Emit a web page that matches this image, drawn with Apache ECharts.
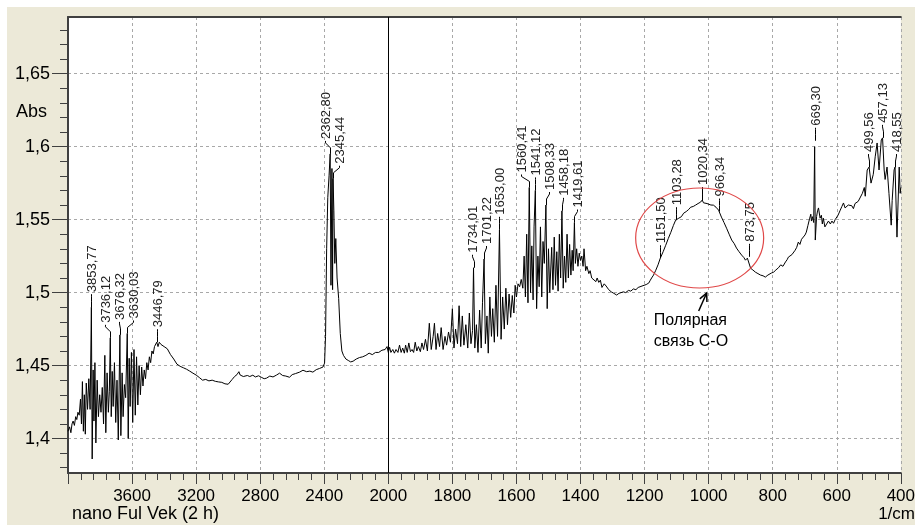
<!DOCTYPE html>
<html><head><meta charset="utf-8">
<script src="https://cdn.jsdelivr.net/npm/echarts@6/dist/echarts.min.js"></script>
<style>
html,body{margin:0;padding:0;background:#fff;}
#bg{position:absolute;left:7px;top:7px;width:908px;height:518px;background:#ECE9D8;}
#chart{position:absolute;left:0;top:0;width:918px;height:525px;}
</style></head><body>
<div id="bg"></div><div id="chart"></div>
<script>
// Spectrum 4000 -> 2000 1/cm  [wavenumber, absorbance]
const spectrumHigh = [[4000,1.405],[3990,1.408],[3982,1.404],[3975,1.410],[3968,1.412],[3960,1.409],[3952,1.415],[3945,1.413],[3938,1.418],[3930,1.416],[3922,1.427],[3916,1.410],[3910,1.439],[3904,1.405],[3898,1.430],[3892,1.403],[3886,1.438],[3878,1.420],[3870,1.441],[3862,1.420],[3854,1.490],[3849,1.386],[3843,1.447],[3838,1.412],[3832,1.452],[3826,1.397],[3818,1.440],[3810,1.415],[3802,1.430],[3794,1.418],[3786,1.435],[3778,1.410],[3770,1.457],[3764,1.404],[3756,1.445],[3748,1.418],[3742,1.432],[3736,1.469],[3730,1.415],[3724,1.446],[3718,1.422],[3710,1.452],[3702,1.411],[3694,1.440],[3686,1.399],[3676,1.471],[3670,1.402],[3662,1.445],[3656,1.415],[3648,1.437],[3640,1.428],[3630,1.472],[3624,1.400],[3618,1.455],[3612,1.422],[3604,1.459],[3596,1.411],[3588,1.461],[3580,1.416],[3572,1.456],[3564,1.423],[3556,1.450],[3548,1.430],[3540,1.449],[3532,1.436],[3524,1.447],[3516,1.441],[3508,1.452],[3500,1.447],[3492,1.456],[3484,1.452],[3476,1.460],[3468,1.458],[3460,1.463],[3452,1.462],[3446,1.466],[3438,1.463],[3430,1.466],[3420,1.4645],[3410,1.465],[3400,1.463],[3390,1.4625],[3380,1.4615],[3360,1.4575],[3340,1.4545],[3320,1.451],[3300,1.4495],[3280,1.4485],[3260,1.4475],[3240,1.4462],[3220,1.4448],[3200,1.4435],[3180,1.4418],[3160,1.440],[3140,1.4405],[3120,1.4395],[3100,1.440],[3080,1.4392],[3060,1.4388],[3040,1.4385],[3020,1.4375],[3008,1.4366],[3000,1.4372],[2990,1.438],[2975,1.4405],[2960,1.4425],[2945,1.4438],[2933,1.4458],[2925,1.4435],[2915,1.4442],[2905,1.4425],[2896,1.442],[2880,1.4432],[2865,1.4425],[2846,1.4434],[2830,1.4422],[2810,1.443],[2790,1.4418],[2775,1.441],[2760,1.4414],[2740,1.4428],[2720,1.4422],[2698,1.4435],[2679,1.4448],[2660,1.4432],[2640,1.4428],[2617,1.442],[2600,1.4438],[2580,1.4445],[2554,1.4455],[2533,1.4468],[2510,1.4458],[2490,1.4462],[2471,1.4455],[2450,1.4472],[2430,1.448],[2408,1.449],[2398,1.4517],[2392,1.47],[2385,1.53],[2378,1.565],[2370,1.58],[2363,1.595],[2358,1.505],[2352,1.585],[2348,1.502],[2345,1.578],[2340,1.556],[2334,1.52],[2328,1.537],[2320,1.51],[2310,1.496],[2300,1.472],[2290,1.460],[2280,1.457],[2265,1.4545],[2250,1.4535],[2235,1.4525],[2220,1.453],[2200,1.4545],[2180,1.4555],[2160,1.456],[2140,1.457],[2120,1.4585],[2100,1.4575],[2080,1.459],[2060,1.459],[2040,1.4605],[2020,1.461],[2008,1.463],[2000,1.459]];
// Spectrum 2000 -> 400 1/cm  [wavenumber, absorbance]
const spectrumLow = [[1996,1.4625],[1992,1.459],[1986,1.461],[1981,1.4585],[1976,1.461],[1970,1.459],[1965,1.464],[1960,1.459],[1955,1.462],[1950,1.4585],[1946,1.464],[1941,1.459],[1936,1.4655],[1931,1.4595],[1926,1.461],[1921,1.459],[1916,1.466],[1911,1.460],[1906,1.463],[1900,1.4595],[1895,1.4655],[1890,1.461],[1884,1.468],[1878,1.460],[1872,1.479],[1866,1.461],[1860,1.470],[1856,1.479],[1851,1.461],[1846,1.472],[1840,1.463],[1835,1.476],[1829,1.461],[1823,1.470],[1818,1.464],[1812,1.473],[1806,1.466],[1800,1.489],[1795,1.462],[1790,1.475],[1784,1.465],[1779,1.491],[1774,1.463],[1769,1.484],[1764,1.464],[1758,1.478],[1752,1.462],[1747,1.486],[1742,1.465],[1737,1.474],[1734,1.517],[1730,1.462],[1725,1.478],[1720,1.459],[1715,1.488],[1710,1.462],[1706,1.493],[1701,1.523],[1697,1.465],[1692,1.484],[1688,1.4585],[1683,1.497],[1678,1.470],[1674,1.489],[1669,1.466],[1664,1.505],[1659,1.470],[1653,1.543],[1648,1.468],[1643,1.497],[1638,1.475],[1633,1.503],[1628,1.478],[1623,1.499],[1618,1.483],[1613,1.498],[1608,1.486],[1604,1.505],[1600,1.497],[1595,1.506],[1590,1.504],[1585,1.509],[1580,1.503],[1576,1.525],[1572,1.497],[1568,1.540],[1564,1.493],[1560,1.572],[1556,1.500],[1552,1.532],[1548,1.495],[1545,1.545],[1541,1.570],[1537,1.489],[1533,1.525],[1529,1.504],[1525,1.545],[1521,1.497],[1517,1.535],[1513,1.520],[1508,1.560],[1504,1.489],[1500,1.530],[1496,1.500],[1490,1.531],[1486,1.502],[1482,1.538],[1478,1.505],[1474,1.528],[1470,1.501],[1466,1.540],[1462,1.510],[1458,1.556],[1454,1.503],[1450,1.525],[1446,1.507],[1442,1.540],[1438,1.510],[1434,1.533],[1430,1.512],[1426,1.529],[1423,1.515],[1419,1.548],[1416,1.520],[1412,1.530],[1408,1.518],[1404,1.527],[1400,1.522],[1396,1.525],[1392,1.518],[1389,1.530],[1384,1.515],[1380,1.518],[1374,1.513],[1370,1.515],[1365,1.510],[1360,1.511],[1352,1.5075],[1348,1.510],[1343,1.507],[1338,1.5085],[1333,1.5035],[1326,1.506],[1320,1.5045],[1312,1.502],[1304,1.5005],[1296,1.4995],[1287,1.4983],[1280,1.4995],[1274,1.499],[1266,1.5005],[1259,1.500],[1250,1.5015],[1243,1.501],[1235,1.5025],[1227,1.502],[1220,1.5035],[1215,1.503],[1208,1.5045],[1202,1.5038],[1195,1.5055],[1187,1.5065],[1182,1.5085],[1178,1.510],[1172,1.512],[1165,1.5153],[1158,1.519],[1151,1.5235],[1142,1.528],[1134,1.5324],[1126,1.537],[1118,1.5413],[1110,1.546],[1103,1.5496],[1098,1.5485],[1093,1.551],[1085,1.552],[1078,1.5544],[1070,1.5555],[1062,1.557],[1056,1.5585],[1048,1.559],[1041,1.5599],[1033,1.561],[1025,1.562],[1020,1.5634],[1016,1.5615],[1010,1.5625],[1005,1.561],[1000,1.5613],[993,1.560],[985,1.5599],[977,1.5585],[969,1.5565],[966,1.5555],[960,1.5517],[952,1.548],[944,1.5441],[936,1.540],[928,1.536],[920,1.5335],[913,1.5305],[905,1.528],[897,1.5257],[890,1.524],[885,1.5222],[879,1.5236],[874,1.5245],[869,1.5167],[862,1.5155],[854,1.514],[846,1.513],[838,1.512],[830,1.5115],[823,1.5106],[815,1.512],[810,1.511],[804,1.5134],[797,1.514],[790,1.5155],[782,1.517],[775,1.519],[768,1.518],[760,1.521],[755,1.5225],[751,1.5243],[745,1.523],[740,1.526],[735,1.527],[730,1.529],[725,1.531],[720,1.5346],[715,1.533],[710,1.5365],[704,1.5355],[699,1.5395],[695,1.5414],[690,1.546],[685,1.5505],[681,1.5537],[679,1.549],[676,1.552],[672,1.548],[669,1.600],[667,1.536],[663,1.552],[660,1.556],[657,1.558],[652,1.551],[648,1.553],[645,1.547],[642,1.551],[637,1.545],[632,1.5462],[626,1.549],[620,1.547],[615,1.549],[610,1.5475],[605,1.550],[601,1.549],[596,1.553],[589,1.5565],[584,1.559],[579,1.5614],[574,1.558],[570,1.5585],[564,1.560],[558,1.559],[553,1.5595],[548,1.5575],[543,1.561],[539,1.562],[533,1.5625],[527,1.563],[520,1.568],[514,1.572],[511,1.566],[505,1.584],[499,1.586],[493,1.575],[486,1.581],[480,1.593],[474,1.6025],[468,1.584],[461,1.6046],[457,1.606],[452,1.584],[449,1.5775],[443,1.586],[437,1.568],[430,1.5462],[427,1.563],[421,1.584],[418,1.586],[412,1.538],[405,1.586],[402,1.568],[400,1.572]];

const peakWavenumbers = [3853.77,3736.12,3676.32,3630.03,3446.79,2362.80,2345.44,1734.01,1701.22,1653.00,1560.41,1541.12,1508.33,1458.18,1419.61,1151.50,1103.28,1020.34,966.34,873.75,669.30,499.56,457.13,418.55];
const peakAbsorbance = [1.490,1.469,1.471,1.472,1.466,1.595,1.578,1.517,1.523,1.543,1.572,1.570,1.560,1.556,1.548,1.5235,1.5496,1.5634,1.5555,1.5245,1.604,1.586,1.606,1.586];
const peakText = peakWavenumbers.map(w => w.toFixed(2).replace('.', ','));

const yMajorTicks = [1.4,1.45,1.5,1.55,1.6,1.65];
const yMinorTicks = [1.38,1.39,1.41,1.42,1.43,1.44,1.46,1.47,1.48,1.49,1.51,1.52,1.53,1.54,1.56,1.57,1.58,1.59,1.61,1.62,1.63,1.64,1.66,1.67,1.68];
const yTitle = 'Abs';
const xTitleLeft = 'nano Ful Vek (2 h)';
const xTitleRight = '1/cm';
const noteLines = ['Полярная', 'связь С-О'];

// piecewise IR axis: 4000-2000 compressed 2x
function toAxis(w){ return w <= 2000 ? w : 2000 + (w - 2000) / 2; }
function fromAxis(u){ return u <= 2000 ? u : 2000 + (u - 2000) * 2; }

// spread crowded labels apart (cluster layout)
function spreadLabels(xs, minGap, step){
  const order = xs.map((x, i) => i).sort((a, b) => xs[a] - xs[b]);
  let clusters = order.map(i => ({members:[i], center:xs[i]}));
  const pos = c => c.members.map((m, k) => c.center + (k - (c.members.length - 1) / 2) * step);
  let changed = true;
  while (changed) {
    changed = false;
    for (let k = 0; k < clusters.length - 1; k++) {
      const pa = pos(clusters[k]), pb = pos(clusters[k + 1]);
      if (pb[0] - pa[pa.length - 1] < minGap) {
        const members = clusters[k].members.concat(clusters[k + 1].members);
        const center = members.reduce((s, m) => s + xs[m], 0) / members.length;
        clusters.splice(k, 2, {members, center});
        changed = true; break;
      }
    }
  }
  const out = new Array(xs.length);
  clusters.forEach(c => pos(c).forEach((p, k) => { out[c.members[k]] = p; }));
  return out;
}

const FONT = 'Arial, "Liberation Sans", sans-serif';
const AXC = '#404040';
const chart = echarts.init(document.getElementById('chart'), null, {renderer:'canvas'});
const lineData = spectrumHigh.concat(spectrumLow).map(p => [toAxis(p[0]), p[1]]);
const peakData = peakWavenumbers.map((w, i) => [toAxis(w), peakAbsorbance[i]]);
let labelX = null;

function peakRender(params, api){
  const p = api.coord([api.value(0), api.value(1)]);
  const x = Math.round(p[0]) + 0.5;
  const lx = labelX ? Math.round(labelX[params.dataIndex]) + 0.5 : x;
  const y = p[1];
  return {type:'group', children:[
    {type:'polyline', shape:{points:[[x, y], [x, y - 6], [lx, y - 11], [lx, y - 13]]}, style:{stroke:'#000', lineWidth:1, fill:'none'}},
    {type:'text', x:lx + 1, y:y - 15, rotation:Math.PI / 2,
      style:{text:peakText[params.dataIndex], fill:'#222', font:'13px ' + FONT, align:'left', verticalAlign:'middle'}}
  ]};
}

chart.setOption({
  animation: false,
  backgroundColor: 'transparent',
  grid: {left:68, top:17, width:835, height:456, show:true, backgroundColor:'#ffffff', borderWidth:0},
  xAxis: [{
    type:'value', min:400, max:3000, interval:200, inverse:true, position:'bottom',
    axisLine:{show:true, onZero:false, lineStyle:{color:AXC, width:2}},
    axisTick:{show:true, length:11, lineStyle:{color:AXC}},
    minorTick:{show:true, splitNumber:5, length:7, lineStyle:{color:AXC}},
    axisLabel:{margin:15, color:'#000', fontSize:17, fontFamily:FONT,
      formatter: v => v >= 3000 ? '' : String(fromAxis(v))},
    splitLine:{show:true, lineStyle:{color:'#a8a8a8', type:[3,3], width:1}}
  },{
    type:'value', min:400, max:3000, inverse:true, position:'top',
    axisLine:{show:true, onZero:false, lineStyle:{color:AXC, width:2}},
    axisTick:{show:false}, axisLabel:{show:false}, splitLine:{show:false}
  }],
  yAxis: [{
    type:'value', min:1.3764, max:1.6888, position:'left',
    axisLine:{show:true, onZero:false, lineStyle:{color:AXC, width:2}},
    axisTick:{show:true, customValues:yMajorTicks, length:16, lineStyle:{color:AXC}},
    axisLabel:{customValues:yMajorTicks, margin:18, color:'#000', fontSize:18, fontFamily:FONT,
      formatter: v => String(parseFloat(v.toFixed(2))).replace('.', ',')},
    splitLine:{show:true, lineStyle:{color:'#a8a8a8', type:[3,3], width:1}}
  },{
    type:'value', min:1.3764, max:1.6888, position:'left',
    axisLine:{show:false}, axisLabel:{show:false}, splitLine:{show:false},
    axisTick:{show:true, customValues:yMinorTicks, length:8, lineStyle:{color:AXC}}
  }],
  series: [{
    type:'line', data:lineData, showSymbol:false, symbol:'none', silent:true,
    lineStyle:{color:'#000', width:1}, z:3,
    markLine:{silent:true, symbol:['none','none'], label:{show:false},
      lineStyle:{color:'#000', type:'solid', width:1},
      data:[{xAxis: toAxis(2000)}]}
  },{
    type:'custom', data:peakData, silent:true, z:4, clip:false,
    encode:{x:0, y:1}, renderItem: peakRender
  }]
});

// label layout from pixel positions of the peaks
labelX = spreadLabels(peakData.map(d => chart.convertToPixel({xAxisIndex:0, yAxisIndex:0}, d)[0]), 13, 14);

// annotation anchored to data coordinates
const c = chart.convertToPixel({xAxisIndex:0, yAxisIndex:0}, [toAxis(1028), 1.5374]);
const tip = [c[0] + 7, c[1] + 55], tail = [c[0] - 1, c[1] + 73];
const ang = Math.atan2(tip[1] - tail[1], tip[0] - tail[0]);
const hl = 9, ha = 0.45;
const w1 = [tip[0] - hl * Math.cos(ang - ha), tip[1] - hl * Math.sin(ang - ha)];
const w2 = [tip[0] - hl * Math.cos(ang + ha), tip[1] - hl * Math.sin(ang + ha)];
chart.setOption({
  series: [{}, {type:'custom', data:peakData, renderItem: peakRender}],
  graphic: [
    {type:'text', left:16, top:103, style:{text:yTitle, font:'18px ' + FONT, fill:'#000'}},
    {type:'text', left:72, top:505, style:{text:xTitleLeft, font:'18px ' + FONT, fill:'#000'}},
    {type:'text', right:3, top:506, style:{text:xTitleRight, font:'17px ' + FONT, fill:'#000'}},
    {type:'ellipse', shape:{cx:c[0], cy:c[1], rx:64, ry:50}, style:{fill:'none', stroke:'#e04848', lineWidth:1.2}, z:10},
    {type:'polyline', shape:{points:[tail, tip]}, style:{stroke:'#000', lineWidth:1.5, fill:'none'}, z:10},
    {type:'polyline', shape:{points:[w1, tip, w2]}, style:{stroke:'#000', lineWidth:1.5, fill:'none'}, z:10},
    {type:'text', x:c[0] - 46, y:c[1] + 83, style:{text:noteLines[0], font:'16px ' + FONT, fill:'#000', verticalAlign:'middle'}, z:10},
    {type:'text', x:c[0] - 46, y:c[1] + 104, style:{text:noteLines[1], font:'16px ' + FONT, fill:'#000', verticalAlign:'middle'}, z:10}
  ]
});
</script>
</body></html>
